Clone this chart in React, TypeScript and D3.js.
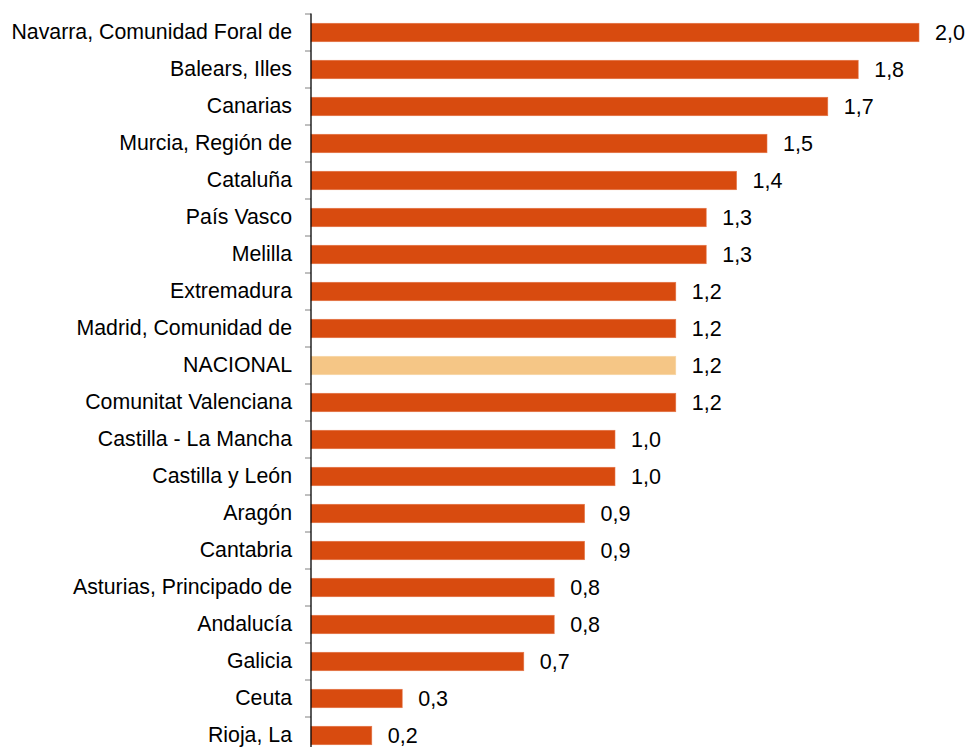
import React from "react";
import * as d3 from "d3";

const categories = [
  "Navarra, Comunidad Foral de",
  "Balears, Illes",
  "Canarias",
  "Murcia, Región de",
  "Cataluña",
  "País Vasco",
  "Melilla",
  "Extremadura",
  "Madrid, Comunidad de",
  "NACIONAL",
  "Comunitat Valenciana",
  "Castilla - La Mancha",
  "Castilla y León",
  "Aragón",
  "Cantabria",
  "Asturias, Principado de",
  "Andalucía",
  "Galicia",
  "Ceuta",
  "Rioja, La",
];

const values = [2.0, 1.8, 1.7, 1.5, 1.4, 1.3, 1.3, 1.2, 1.2, 1.2, 1.2, 1.0, 1.0, 0.9, 0.9, 0.8, 0.8, 0.7, 0.3, 0.2];

const highlight = "NACIONAL";

export default function App() {
  const W = 967;
  const H = 747;
  const x = d3.scaleLinear().domain([0, 2.0]).range([311, 919]);
  const y = d3
    .scaleBand<string>()
    .domain(categories)
    .range([14, 754])
    .paddingInner(0.5)
    .paddingOuter(0.25);
  const step = y.step();
  const fmt = (v: number) => d3.format(".1f")(v).replace(".", ",");
  const font = "Arial, 'Liberation Sans', sans-serif";

  return (
    <svg
      width={W}
      height={H}
      style={{ position: "absolute", left: 0, top: 0, background: "#fff" }}
    >
      {categories.map((c, i) => {
        const yy = y(c)!;
        const bw = y.bandwidth();
        const fill = c === highlight ? "#F5C686" : "#D84B0F";
        const stroke = c === highlight ? "#F8D7A8" : "#E6774A";
        return (
          <g key={c}>
            <rect
              x={x(0)}
              y={yy}
              width={x(values[i]) - x(0)}
              height={bw}
              fill={fill}
              stroke={stroke}
              strokeWidth={0.6}
            />
            <text
              x={292}
              y={yy + bw / 2 - 0.5}
              dy="0.35em"
              textAnchor="end"
              fontFamily={font}
              fontSize={21.3}
              fill="#000"
            >
              {c}
            </text>
            <text
              x={x(values[i]) + 16}
              y={yy + bw / 2}
              dy="0.35em"
              textAnchor="start"
              fontFamily={font}
              fontSize={21.5}
              fill="#000"
            >
              {fmt(values[i])}
            </text>
          </g>
        );
      })}
      {d3.range(categories.length + 1).map((i) => (
        <line
          key={"t" + i}
          x1={305}
          x2={311}
          y1={14 + i * step}
          y2={14 + i * step}
          stroke="#808080"
          strokeWidth={1}
        />
      ))}
      <line x1={311} x2={311} y1={13.5} y2={H} stroke="#000" strokeWidth={1.3} />
    </svg>
  );
}
